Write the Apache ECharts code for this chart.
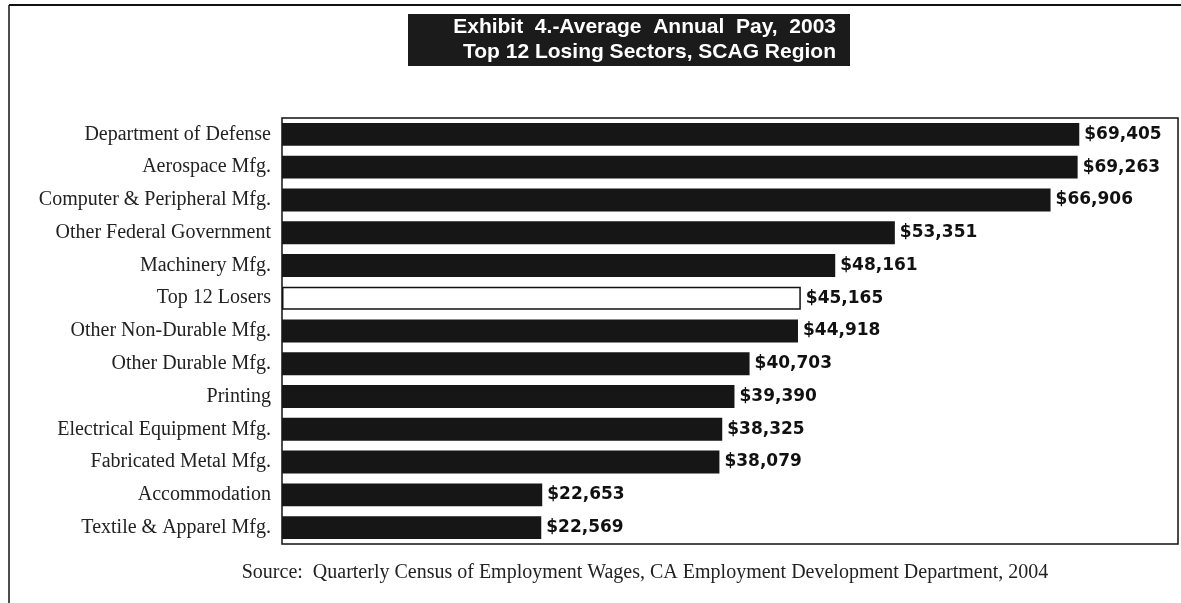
<!DOCTYPE html>
<html>
<head>
<meta charset="utf-8">
<script src="https://cdn.jsdelivr.net/npm/echarts@6/dist/echarts.min.js"></script>
<style>
  html, body { margin: 0; padding: 0; background: #fff; }
  #chart { width: 1181px; height: 603px; }
</style>
</head>
<body>
<div id="chart"></div>
<script>
// 行业名称（自上而下）
const sectors = [
  'Department of Defense',
  'Aerospace Mfg.',
  'Computer & Peripheral Mfg.',
  'Other Federal Government',
  'Machinery Mfg.',
  'Top 12 Losers',
  'Other Non-Durable Mfg.',
  'Other Durable Mfg.',
  'Printing',
  'Electrical Equipment Mfg.',
  'Fabricated Metal Mfg.',
  'Accommodation',
  'Textile & Apparel Mfg.'
];
// 平均年薪
const avgPay = [69405, 69263, 66906, 53351, 48161, 45165, 44918, 40703, 39390, 38325, 38079, 22653, 22569];
// 汇总行，画成空心条
const totalRow = 'Top 12 Losers';

const titleLines = ['Exhibit  4.-Average  Annual  Pay,  2003', 'Top 12 Losing Sectors, SCAG Region'];
const sourceText = 'Source:  Quarterly Census of Employment Wages, CA Employment Development Department, 2004';

const myChart = echarts.init(document.getElementById('chart'));

const barData = sectors.map((name, i) => {
  if (name === totalRow) {
    return {
      value: avgPay[i],
      itemStyle: { color: '#fff', borderColor: '#111', borderWidth: 1.5 }
    };
  }
  return avgPay[i];
});

const option = {
  animation: false,
  backgroundColor: '#fff',
  grid: {
    show: true,
    left: 282,
    right: 3,
    top: 118,
    bottom: 59,
    borderColor: '#111',
    borderWidth: 1.5,
    backgroundColor: 'transparent'
  },
  xAxis: {
    type: 'value',
    min: 0,
    max: 78000,
    show: false
  },
  yAxis: {
    type: 'category',
    data: sectors,
    inverse: true,
    axisLine: { show: false },
    axisTick: { show: false },
    splitLine: { show: false },
    axisLabel: {
      margin: 11,
      fontFamily: 'Liberation Serif',
      fontSize: 20,
      color: '#222'
    }
  },
  series: [
    {
      type: 'bar',
      data: barData,
      barCategoryGap: '30%',
      itemStyle: { color: '#161616' },
      label: {
        show: true,
        position: 'right',
        distance: 5,
        fontFamily: 'DejaVu Sans',
        fontWeight: 'bold',
        fontSize: 17,
        color: '#111',
        formatter: p => '$' + p.value.toLocaleString('en-US')
      }
    }
  ],
  graphic: [
    // 外框（上边、左边）
    { type: 'line', shape: { x1: 9, y1: 5, x2: 1181, y2: 5 }, style: { stroke: '#111', lineWidth: 2 } },
    { type: 'line', shape: { x1: 9, y1: 5, x2: 9, y2: 603 }, style: { stroke: '#111', lineWidth: 1.5 } },
    // 标题黑框
    { type: 'rect', shape: { x: 408, y: 14, width: 442, height: 52 }, style: { fill: '#1b1b1b' } },
    {
      type: 'text', x: 836, y: 27,
      style: {
        text: titleLines[0], fill: '#fff', align: 'right', verticalAlign: 'middle',
        font: 'bold 21px "Liberation Sans"'
      }
    },
    {
      type: 'text', x: 836, y: 52,
      style: {
        text: titleLines[1], fill: '#fff', align: 'right', verticalAlign: 'middle',
        font: 'bold 21px "Liberation Sans"'
      }
    },
    {
      type: 'text', x: 645, y: 573,
      style: {
        text: sourceText, fill: '#222', align: 'center', verticalAlign: 'middle',
        font: '20px "Liberation Serif"'
      }
    }
  ]
};

myChart.setOption(option);
</script>
</body>
</html>
